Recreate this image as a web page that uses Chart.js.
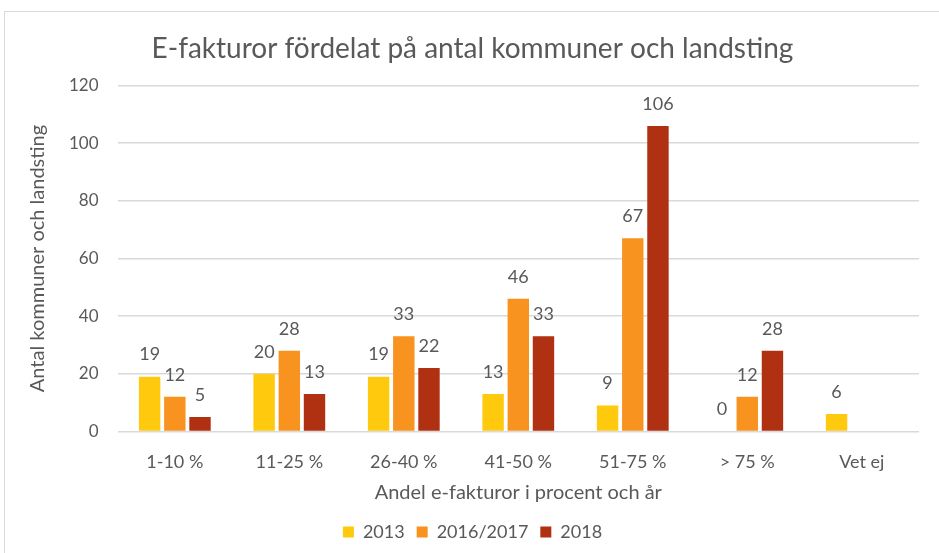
<!DOCTYPE html>
<html>
<head>
<meta charset="utf-8">
<script src="https://cdn.jsdelivr.net/npm/chart.js@4/dist/chart.umd.min.js"></script>
<style>
  html, body { margin: 0; padding: 0; background: #fff; }
  #wrap { position: relative; width: 939px; height: 553px; }
</style>
</head>
<body>
<div id="wrap"><canvas id="myChart"></canvas></div>
<script>
// data
const categories = ['1-10 %', '11-25 %', '26-40 %', '41-50 %', '51-75 %', '> 75 %', 'Vet ej'];
const seriesNames = ['2013', '2016/2017', '2018'];
const values2013 = [19, 20, 19, 13, 9, 0, 6];
const values2016 = [12, 28, 33, 46, 67, 12, null];
const values2018 = [5, 13, 22, 33, 106, 28, null];
const colors = ['#FFC90E', '#F7931E', '#B03112'];

const textColor = '#595959';
const fontFamily = 'Lato, "Open Sans", sans-serif';

// ram runt diagrammet
const framePlugin = {
  id: 'frame',
  beforeDraw(chart) {
    const ctx = chart.ctx;
    ctx.save();
    ctx.strokeStyle = '#d9d9d9';
    ctx.lineWidth = 1;
    ctx.strokeRect(4.5, 11.5, 960, 560);
    ctx.restore();
  }
};

// etiketter ovanför staplarna
const dataLabelPlugin = {
  id: 'barLabels',
  afterDatasetsDraw(chart) {
    const ctx = chart.ctx;
    ctx.save();
    ctx.fillStyle = textColor;
    ctx.font = '18px ' + fontFamily;
    ctx.textAlign = 'center';
    ctx.textBaseline = 'middle';
    chart.data.datasets.forEach((dataset, i) => {
      const meta = chart.getDatasetMeta(i);
      if (meta.hidden) return;
      meta.data.forEach((bar, index) => {
        const v = dataset.data[index];
        if (v === null || v === undefined) return;
        ctx.fillText(String(v), bar.x, bar.y - 22);
      });
    });
    ctx.restore();
  }
};

new Chart(document.getElementById('myChart'), {
  type: 'bar',
  data: {
    labels: categories,
    datasets: [
      { label: seriesNames[0], data: values2013, backgroundColor: colors[0] },
      { label: seriesNames[1], data: values2016, backgroundColor: colors[1] },
      { label: seriesNames[2], data: values2018, backgroundColor: colors[2] }
    ]
  },
  options: {
    responsive: true,
    maintainAspectRatio: false,
    animation: false,
    datasets: {
      bar: { categoryPercentage: 0.66, barPercentage: 0.85, skipNull: false }
    },
    layout: { padding: { top: 32, right: 20, left: 26, bottom: 2 } },
    plugins: {
      title: {
        display: true,
        text: 'E-fakturor fördelat på antal kommuner och landsting',
        color: textColor,
        font: { family: fontFamily, size: 28, weight: 'normal' },
        padding: { top: 0, bottom: 20 }
      },
      legend: {
        position: 'bottom',
        labels: {
          color: textColor,
          font: { family: fontFamily, size: 18 },
          boxWidth: 11,
          boxHeight: 11,
          padding: 12
        }
      },
      tooltip: { enabled: false }
    },
    scales: {
      x: {
        grid: { display: false },
        border: { display: false },
        ticks: { color: textColor, font: { family: fontFamily, size: 18 }, padding: 12 },
        title: {
          display: true,
          text: 'Andel e-fakturor i procent och år',
          color: textColor,
          font: { family: fontFamily, size: 20 },
          padding: { top: -4, bottom: 6 }
        }
      },
      y: {
        min: 0,
        max: 120,
        ticks: { stepSize: 20, color: textColor, font: { family: fontFamily, size: 17 }, padding: 19 },
        grid: { color: '#d9d9d9', lineWidth: 1.5, drawTicks: false },
        border: { display: false },
        title: {
          display: true,
          text: 'Antal kommuner och landsting',
          color: textColor,
          font: { family: fontFamily, size: 20 },
          padding: { top: 0, bottom: 0 }
        }
      }
    }
  },
  plugins: [framePlugin, dataLabelPlugin]
});
</script>
</body>
</html>
